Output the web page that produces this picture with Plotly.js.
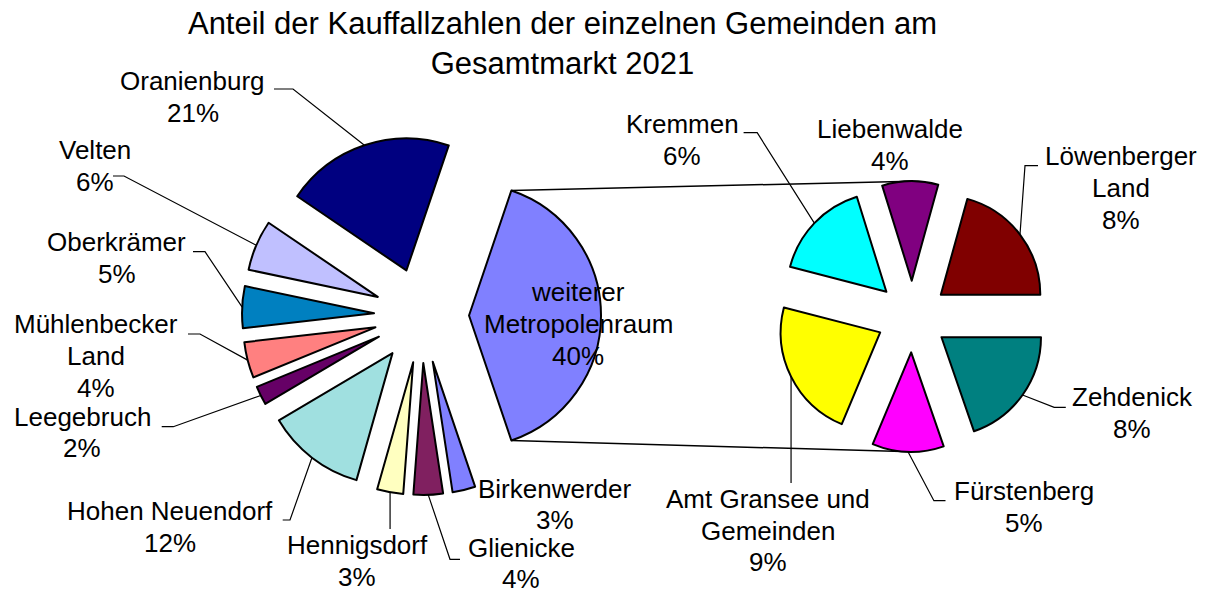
<!DOCTYPE html>
<html><head><meta charset="utf-8">
<script src="https://cdn.plot.ly/plotly-3.0.1.min.js"></script>
<style>html,body{margin:0;padding:0;background:#fff;}#chart{width:1208px;height:594px;}</style>
</head><body><div id="chart"></div>
<script>
// ---------- data (share of total) ----------
const mainLabels = ["Oranienburg","Velten","Oberkrämer","Mühlenbecker Land","Leegebruch","Hohen Neuendorf","Hennigsdorf","Glienicke","Birkenwerder"];
const mainValues = [20.7, 6.2, 5.1, 4.4, 2.3, 12.1, 3.2, 3.6, 2.8];
const otherLabel = "weiterer Metropolenraum";
const secLabels = ["Kremmen","Liebenwalde","Löwenberger Land","Zehdenick","Fürstenberg","Amt Gransee und Gemeinden"];
const secValues = [6.4, 3.6, 8.2, 7.8, 4.6, 9.0];
const titleText = "Anteil der Kauffallzahlen der einzelnen Gemeinden am<br>Gesamtmarkt 2021";

// ---------- styles ----------
const mainColors = ["#000080","#C0C0FF","#0080C0","#FF8080","#660066","#A0E0E0","#FFFFC0","#802060","#8080FF"];
const otherColor = "#8080FF";
const secColors = ["#00FFFF","#800080","#800000","#008080","#FF00FF","#FFFF00"];
const secClockwiseOrder = ["Zehdenick","Fürstenberg","Amt Gransee und Gemeinden","Kremmen","Liebenwalde","Löwenberger Land"];
const FONT = "Liberation Sans, Arial, sans-serif";
const LABEL_SIZE = 26, LINE_STEP = 31.7;

// ---------- layout geometry ----------
const W = 1208, H = 594;
const PULL = 0.36;
const LEFT = {cx: 421.5, cy: 315.5, r: 132};
const RIGHT = {cx: 912.3, cy: 316.5, r: 99.5};

// label placement (pixel centres of text blocks) and leader stubs
const labelPos = {
  "Oranienburg": {x:192.5, y:97, stub:[274,293,89]},
  "Velten": {x:95, y:166, stub:[113,124,176]},
  "Oberkrämer": {x:116.5, y:258, stub:[193,205,251.7]},
  "Mühlenbecker Land": {x:96, y:356, stub:[188,200,334]},
  "Leegebruch": {x:82, y:432.5, stub:[161.7,173.3,426.7]},
  "Hohen Neuendorf": {x:170, y:527, stub:[282.7,290,520]},
  "Hennigsdorf": {x:357, y:561, vert:529},
  "Glienicke": {x:521, y:563.5, stub:[460,450,559.3]},
  "Birkenwerder": {x:555, y:504.5},
  "weiterer Metropolenraum": {x:578, y:324},
  "Kremmen": {x:682, y:140, stub:[743.6,757.2,132.7]},
  "Liebenwalde": {x:890, y:145},
  "Löwenberger Land": {x:1121, y:188, stub:[1038,1025,165.7]},
  "Zehdenick": {x:1132, y:413, stub:[1065.8,1054.2,407.3]},
  "Fürstenberg": {x:1023.5, y:507, stub:[945.5,933.9,500.7]},
  "Amt Gransee und Gemeinden": {x:767.5, y:530.5, vert:483}
};

const sum = a => a.reduce((s,v)=>s+v,0);
const otherValue = sum(secValues);
const total = sum(mainValues) + otherValue;

// left pie, clockwise, starting with the "other" slice centred at 3 o'clock
const leftLabels = [otherLabel].concat(mainLabels.slice().reverse());
const leftValues = [otherValue].concat(mainValues.slice().reverse());
const leftColors = [otherColor].concat(mainColors.slice().reverse());
const leftRotation = 90 - (otherValue/total*360)/2;

// right pie, clockwise from 3 o'clock
const rightLabels = secClockwiseOrder;
const rightValues = secClockwiseOrder.map(n => secValues[secLabels.indexOf(n)]);
const rightColors = secClockwiseOrder.map(n => secColors[secLabels.indexOf(n)]);
const rightRotation = 90;

function domainOf(g){
  const half = g.r*(1+PULL);
  return {x:[(g.cx-half)/W, (g.cx+half)/W], y:[1-(g.cy+half)/H, 1-(g.cy-half)/H]};
}
function sliceGeom(values, rotDeg, g){
  const tot = sum(values);
  let a = rotDeg*Math.PI/180;
  return values.map(v=>{
    const a0=a; a += 2*Math.PI*v/tot; const a1=a; const mid=(a0+a1)/2;
    const d = PULL*g.r;
    const cx = g.cx + d*Math.sin(mid), cy = g.cy - d*Math.cos(mid);
    return {a0,a1,mid,cx,cy,
      arcMid:[cx+g.r*Math.sin(mid), cy-g.r*Math.cos(mid)],
      p0:[cx+g.r*Math.sin(a0), cy-g.r*Math.cos(a0)],
      p1:[cx+g.r*Math.sin(a1), cy-g.r*Math.cos(a1)]};
  });
}
const leftGeom = sliceGeom(leftValues, leftRotation, LEFT);
const rightGeom = sliceGeom(rightValues, rightRotation, RIGHT);

function pointAt(geoms, g, targetDeg){
  const t = targetDeg*Math.PI/180;
  for(const s of geoms){
    for(const k of [-1,0,1,2]){
      const tt = t + k*2*Math.PI;
      if(tt>=s.a0 && tt<s.a1) return [s.cx+g.r*Math.sin(tt), s.cy-g.r*Math.cos(tt)];
    }
  }
  return [g.cx, g.cy];
}

const px = x => x/W, py = y => 1-y/H;
const shapes = [];
function addPath(pts, w){
  const d = pts.map((p,i)=>(i?'L':'M')+px(p[0]).toFixed(5)+','+py(p[1]).toFixed(5)).join(' ');
  shapes.push({type:'path', xref:'paper', yref:'paper', path:d, line:{color:'#000', width:w}});
}

// connector lines between the "other" slice and the secondary pie
const oth = leftGeom[0];
addPath([oth.p0, pointAt(rightGeom, RIGHT, 0)], 1.5);
addPath([oth.p1, pointAt(rightGeom, RIGHT, 180)], 1.5);

function wrap(s, n){
  const words = s.split(' '); const lines=[]; let cur='';
  for(const w of words){
    if(cur && (cur+' '+w).length>n){lines.push(cur); cur=w;} else cur = cur? cur+' '+w : w;
  }
  lines.push(cur); return lines;
}

const annotations = [];
function addLabel(name, value, geom){
  const L = labelPos[name];
  const pct = Math.round(value/total*100)+'%';
  const lines = wrap(name,15).concat([pct]);
  lines.forEach((t,i)=>{
    const yy = L.y + (i-(lines.length-1)/2)*LINE_STEP;
    annotations.push({xref:'paper', yref:'paper', x:px(L.x), y:py(yy), xanchor:'center', yanchor:'middle',
      text:t, showarrow:false, align:'center', font:{family:FONT, size:LABEL_SIZE, color:'#000'}});
  });
  if(L.stub){
    addPath([[L.stub[0],L.stub[2]],[L.stub[1],L.stub[2]],geom.arcMid], 1.2);
  } else if(L.vert){
    addPath([geom.arcMid,[geom.arcMid[0], L.vert]], 1.2);
  }
}
leftLabels.forEach((n,i)=>addLabel(n, leftValues[i], leftGeom[i]));
rightLabels.forEach((n,i)=>addLabel(n, rightValues[i], rightGeom[i]));

const data = [
  {type:'pie', labels:leftLabels, values:leftValues, sort:false, direction:'clockwise', rotation:leftRotation,
   pull:leftValues.map(()=>PULL), marker:{colors:leftColors, line:{color:'#000', width:2}},
   textinfo:'none', hoverinfo:'label+percent', domain:domainOf(LEFT), showlegend:false},
  {type:'pie', labels:rightLabels, values:rightValues, sort:false, direction:'clockwise', rotation:rightRotation,
   pull:rightValues.map(()=>PULL), marker:{colors:rightColors, line:{color:'#000', width:2}},
   textinfo:'none', hoverinfo:'label+value', domain:domainOf(RIGHT), showlegend:false}
];

const layout = {
  width:W, height:H, margin:{l:0,r:0,t:0,b:0}, paper_bgcolor:'#fff', plot_bgcolor:'#fff',
  showlegend:false,
  title:{text:titleText, x:562.5/W, xanchor:'center', xref:'paper', y:1-34/H, yanchor:'top', yref:'container',
    font:{family:FONT, size:31, color:'#000'}},
  shapes:shapes, annotations:annotations
};
Plotly.newPlot('chart', data, layout, {staticPlot:true, displayModeBar:false});
</script></body></html>
